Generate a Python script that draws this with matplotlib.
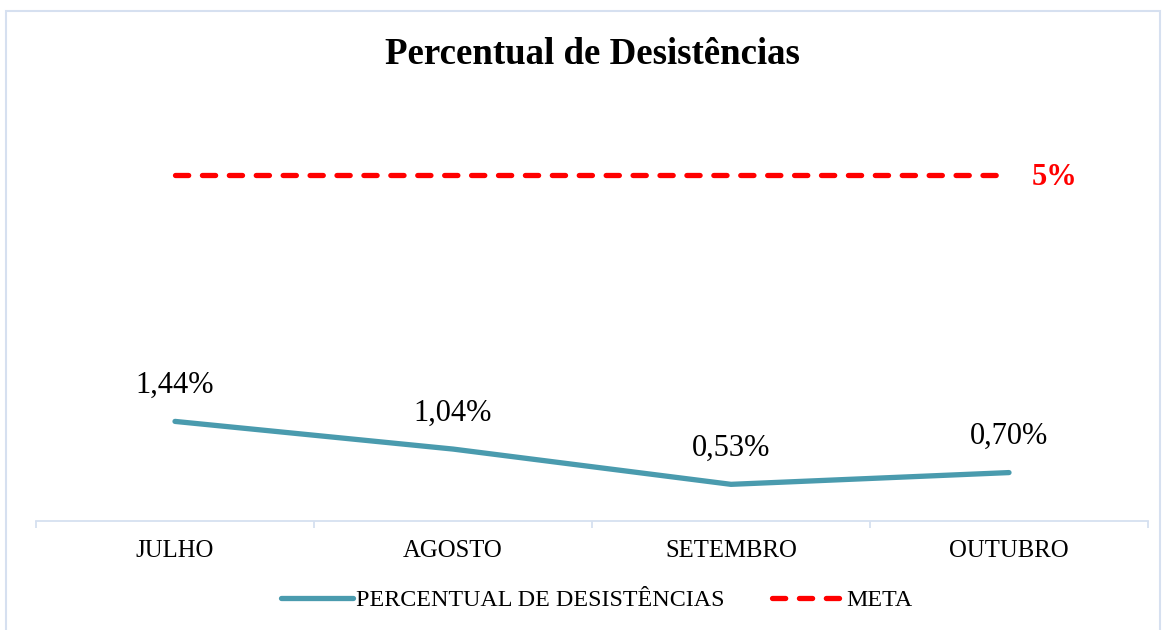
import matplotlib.pyplot as plt
from matplotlib.patches import Rectangle

# dados
meses = ['JULHO', 'AGOSTO', 'SETEMBRO', 'OUTUBRO']
desistencias = [1.44, 1.04, 0.53, 0.70]
meta = [5, 5, 5, 5]
rotulos = ['1,44%', '1,04%', '0,53%', '0,70%']

plt.rcParams['font.family'] = ['Liberation Serif', 'DejaVu Serif']

fig = plt.figure(figsize=(11.67, 6.3), dpi=100)
ax = fig.add_axes([36/1167, 109/630, 1112/1167, 415/630])

x = range(len(meses))
cor_linha = '#4A9BAE'
ax.plot(x, desistencias, color=cor_linha, lw=3.8, solid_capstyle='round',
        label='PERCENTUAL DE DESISTÊNCIAS')
ax.plot(x, meta, color='#FF0000', lw=3.8, ls=(0, (2.5, 2.6)),
        dash_capstyle='round', label='META')

for xi, v, r in zip(x, desistencias, rotulos):
    ax.annotate(r, (xi, v), xytext=(0, 26), textcoords='offset points',
                ha='center', va='center', fontsize=22)
ax.annotate('5%', (x[-1], meta[-1]), xytext=(16, -2), textcoords='offset points',
            ha='left', va='center', fontsize=22, fontweight='bold', color='#FF0000')

ax.set_xlim(-0.5, 3.5)
ax.set_ylim(0, 6)
ax.set_yticks([])
ax.set_xticks(x)
ax.set_xticklabels(meses, fontsize=17.8)
ax.set_xticks([-0.5, 0.5, 1.5, 2.5, 3.5], minor=True)
ax.tick_params(axis='x', which='major', length=0, pad=14)
ax.tick_params(axis='x', which='minor', length=5, color='#D6E0F0', width=1.3)
for s in ['top', 'left', 'right']:
    ax.spines[s].set_visible(False)
ax.spines['bottom'].set_color('#D6E0F0')
ax.spines['bottom'].set_linewidth(1.3)

fig.text(592/1167, 1 - 55/630, 'Percentual de Desistências', ha='center', va='center',
         fontsize=26.6, fontweight='bold')

fig.legend(loc='center', bbox_to_anchor=(597/1167, 1 - 600/630), ncol=2, frameon=False,
           fontsize=17.3, handlelength=3.0, handletextpad=0.1, columnspacing=2.0)

fig.patches.append(Rectangle((6/1167, -0.01), 1154/1167, 1 - 11/630 + 0.01,
                             transform=fig.transFigure, fill=False,
                             edgecolor='#D6E0F0', lw=1.5))

fig.savefig('out.png', dpi=100)
